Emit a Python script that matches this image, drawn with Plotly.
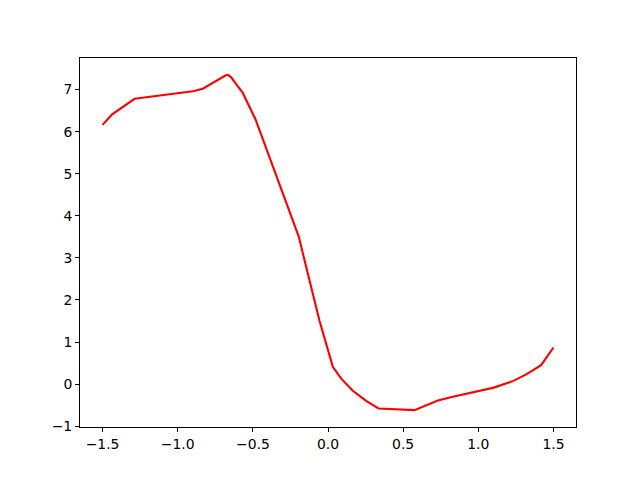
import plotly.graph_objects as go

LINE_COLOR = "red"

x_vals = [-1.5, -1.436, -1.287, -0.899, -0.833, -0.70, -0.680, -0.665, -0.644, -0.611,
          -0.567, -0.482, -0.194, -0.145, -0.057, 0.032, 0.088, 0.165, 0.254, 0.336,
          0.476, 0.575, 0.731, 0.83, 1.097, 1.23, 1.319, 1.418, 1.5]
y_vals = [6.16, 6.41, 6.78, 6.96, 7.02, 7.30, 7.34, 7.35, 7.29, 7.13,
          6.92, 6.29, 3.50, 2.78, 1.51, 0.41, 0.13, -0.16, -0.40, -0.58,
          -0.61, -0.62, -0.39, -0.30, -0.09, 0.07, 0.23, 0.45, 0.87]

x_ticks = [-1.5, -1.0, -0.5, 0.0, 0.5, 1.0, 1.5]
y_ticks = [-1, 0, 1, 2, 3, 4, 5, 6, 7]

fig = go.Figure()
fig.add_trace(
    go.Scatter(
        x=x_vals,
        y=y_vals,
        mode="lines",
        line=dict(color=LINE_COLOR, width=2.1),
        showlegend=False,
    )
)

axis_style = dict(
    showgrid=False,
    zeroline=False,
    showline=True,
    linecolor="black",
    linewidth=1,
    mirror=True,
    ticks="outside",
    ticklen=4,
    tickwidth=1,
    tickcolor="black",
    tickfont=dict(family="DejaVu Sans", size=13.9, color="black"),
)

# page body has an 8px margin, so the figure is shrunk to fit the window
fig.update_layout(
    width=632,
    height=472,
    margin=dict(l=72, r=64, t=50, b=53),
    paper_bgcolor="white",
    plot_bgcolor="white",
    xaxis=dict(range=[-1.65, 1.65], tickvals=x_ticks, tickformat=".1f", **axis_style),
    yaxis=dict(range=[-1.02, 7.75], tickvals=y_ticks, **axis_style),
)

fig.write_html("out.html")
